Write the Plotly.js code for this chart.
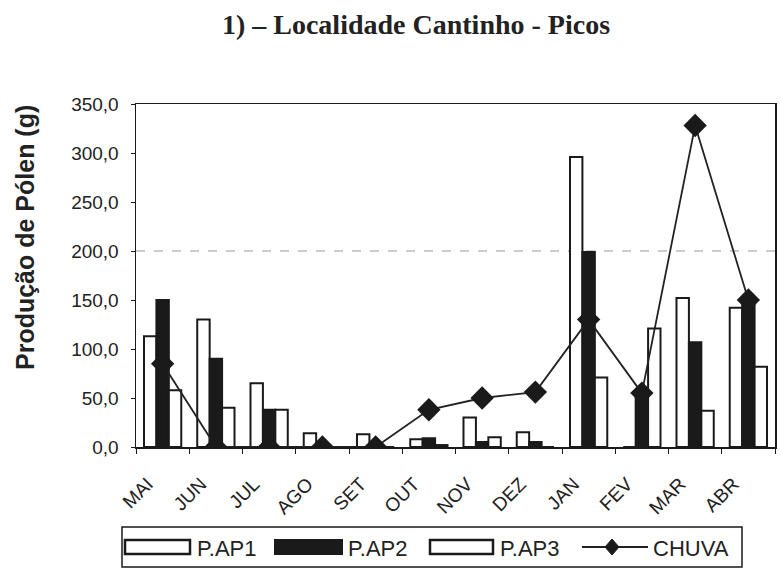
<!DOCTYPE html>
<html>
<head>
<meta charset="utf-8">
<script src="https://cdn.plot.ly/plotly-3.0.1.min.js"></script>
<style>html,body{margin:0;padding:0;background:#fff;}#chart{width:781px;height:575px;}</style>
</head>
<body>
<div id="chart"></div>
<script>
const months = ['MAI','JUN','JUL','AGO','SET','OUT','NOV','DEZ','JAN','FEV','MAR','ABR'];
const pap1 = [113, 130, 65, 14, 13, 8, 30, 15, 296, 0, 152, 142];
const pap2 = [150, 90, 38, 2, 0, 9, 5, 5, 199, 56, 107, 150];
const pap3 = [58, 40, 38, 0, 0, 2, 10, 0, 71, 121, 37, 82];
const chuva = [85, 0, 0, 0, 0, 38, 50, 56, 130, 55, 328, 150];
const seriesNames = ['P.AP1', 'P.AP2', 'P.AP3', 'CHUVA'];

const W = 781, H = 575;
const M = {l: 136, r: 6, t: 104, b: 128};
const PW = W - M.l - M.r, PH = H - M.t - M.b;
const px = x => (x - M.l) / PW;          // pixel -> paper x
const py = y => (H - M.b - y) / PH;      // pixel -> paper y

const ink = '#1a1a1a';
const barLine = {color: ink, width: 2};
const traces = [
  {type: 'bar', name: seriesNames[0], x: months, y: pap1, marker: {color: '#ffffff', line: barLine}},
  {type: 'bar', name: seriesNames[1], x: months, y: pap2, marker: {color: ink, line: barLine}},
  {type: 'bar', name: seriesNames[2], x: months, y: pap3, marker: {color: '#ffffff', line: barLine}},
  {type: 'scatter', mode: 'lines+markers', name: seriesNames[3], x: months, y: chuva,
   line: {color: '#222', width: 1.8},
   marker: {symbol: 'diamond', size: 18, color: ink}}
];

// manual legend (wide swatches like the original)
const shapes = [
  {type: 'line', xref: 'paper', yref: 'y', x0: 0, x1: 1, y0: 200, y1: 200,
   line: {color: '#999', width: 1, dash: 'dash'}, layer: 'below'},
  {type: 'rect', xref: 'paper', yref: 'paper', x0: px(122), x1: px(742), y0: py(527), y1: py(567),
   line: {color: ink, width: 1.5}, fillcolor: '#ffffff'},
  {type: 'rect', xref: 'paper', yref: 'paper', x0: px(125), x1: px(190), y0: py(540), y1: py(554),
   line: {color: ink, width: 2.5}, fillcolor: '#ffffff'},
  {type: 'rect', xref: 'paper', yref: 'paper', x0: px(275), x1: px(342), y0: py(540), y1: py(554),
   line: {color: ink, width: 2}, fillcolor: ink},
  {type: 'rect', xref: 'paper', yref: 'paper', x0: px(430), x1: px(493), y0: py(540), y1: py(554),
   line: {color: ink, width: 2.5}, fillcolor: '#ffffff'},
  {type: 'line', xref: 'paper', yref: 'paper', x0: px(582), x1: px(648), y0: py(547), y1: py(547),
   line: {color: '#222', width: 1.8}},
  {type: 'path', xref: 'paper', yref: 'paper',
   path: `M ${px(605)} ${py(547)} L ${px(612)} ${py(539)} L ${px(619)} ${py(547)} L ${px(612)} ${py(555)} Z`,
   line: {color: ink, width: 1}, fillcolor: ink}
];
const legFont = {family: 'Liberation Sans, Arial, sans-serif', size: 22, color: '#222'};
const legText = (t, x) => ({text: t, xref: 'paper', yref: 'paper', x: px(x), y: py(548),
  xanchor: 'left', yanchor: 'middle', showarrow: false, font: legFont});
const annotations = [
  legText(seriesNames[0], 195), legText(seriesNames[1], 346),
  legText(seriesNames[2], 498), legText(seriesNames[3], 651),
  {text: '<b>Produção de Pólen (g)</b>', xref: 'paper', yref: 'paper', x: px(25), y: py(238),
   xanchor: 'center', yanchor: 'middle', textangle: -90, showarrow: false,
   font: {family: 'Liberation Sans, Arial, sans-serif', size: 25, color: '#222'}}
];

const layout = {
  width: W, height: H,
  paper_bgcolor: '#ffffff', plot_bgcolor: '#ffffff',
  margin: M,
  separators: ',.',
  barmode: 'group', bargap: 0.3, bargroupgap: 0,
  showlegend: false,
  title: {text: '1) – Localidade Cantinho - Picos', x: 416 / W, xanchor: 'center', y: 1 - 24 / H, yanchor: 'middle',
          font: {family: 'Liberation Serif, Times New Roman, serif', size: 28, color: '#222', weight: 'bold'}},
  xaxis: {
    type: 'category', range: [-0.5, months.length - 0.5], autorange: false,
    showline: true, linecolor: ink, linewidth: 1.5, mirror: true,
    ticks: 'outside', tickson: 'boundaries', ticklen: 5, tickcolor: ink,
    tickangle: -45, ticklabelstandoff: 17, ticklabelshift: -15, automargin: false,
    tickfont: {family: 'Liberation Sans, Arial, sans-serif', size: 19, color: '#222'},
    showgrid: false, zeroline: false
  },
  yaxis: {
    range: [0, 350], dtick: 50, tickformat: '.1f', automargin: false,
    showline: true, linecolor: ink, linewidth: 1.5, mirror: true,
    ticks: 'outside', ticklen: 4, tickcolor: ink, ticklabelstandoff: 8,
    tickfont: {family: 'Liberation Sans, Arial, sans-serif', size: 19, color: '#222'},
    showgrid: false, zeroline: false
  },
  shapes: shapes,
  annotations: annotations
};

Plotly.newPlot('chart', traces, layout, {displayModeBar: false, staticPlot: true});
</script>
</body>
</html>
